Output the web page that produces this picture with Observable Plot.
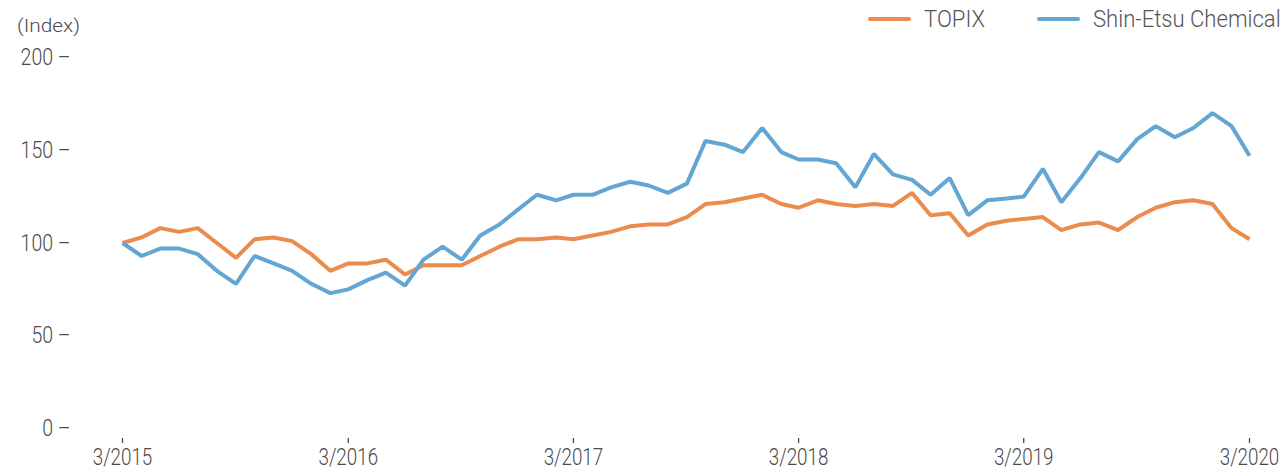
<!DOCTYPE html>
<html>
<head>
<meta charset="utf-8">
<script src="https://cdn.jsdelivr.net/npm/d3@7"></script>
<script src="https://cdn.jsdelivr.net/npm/@observablehq/plot@0.6"></script>
<style>
  html, body { margin: 0; padding: 0; background: #fff; }
  #wrap { position: relative; width: 1287px; height: 474px; overflow: hidden; }
  #wrap svg { display: block; }
  #overlay { position: absolute; left: 0; top: 0; }
</style>
</head>
<body>
<div id="wrap"></div>
<script>
// ---- Data (monthly, 3/2015 = 100) ----
const startYear = 2015, startMonthIndex = 2; // March 2015
const seriesNames = ["TOPIX", "Shin-Etsu Chemical"];
const seriesColors = ["#ec8b4e", "#63a5d3"];
const topix = [
  100, 103, 108, 106, 108, 100, 92, 102, 103, 101,
  94, 85, 89, 89, 91, 83, 88, 88, 88, 93,
  98, 102, 102, 103, 102, 104, 106, 109, 110, 110,
  114, 121, 122, 124, 126, 121, 119, 123, 121, 120,
  121, 120, 127, 115, 116, 104, 110, 112, 113, 114,
  107, 110, 111, 107, 114, 119, 122, 123, 121, 108, 102
];
const shinEtsu = [
  100, 93, 97, 97, 94, 85, 78, 93, 89, 85,
  78, 73, 75, 80, 84, 77, 91, 98, 91, 104,
  110, 118, 126, 123, 126, 126, 130, 133, 131, 127,
  132, 155, 153, 149, 162, 149, 145, 145, 143, 130,
  148, 137, 134, 126, 135, 115, 123, 124, 125, 140,
  122, 135, 149, 144, 156, 163, 157, 162, 170, 163, 147
];
const yTicks = [0, 50, 100, 150, 200];
const xTickYears = [2015, 2016, 2017, 2018, 2019, 2020];
const yUnitLabel = "(Index)";

// ---- Build table ----
const monthDate = i => new Date(Date.UTC(startYear, startMonthIndex + i, 1));
const rows = [];
[topix, shinEtsu].forEach((arr, s) => {
  arr.forEach((v, i) => rows.push({ date: monthDate(i), value: v, series: seriesNames[s] }));
});
const xTicks = xTickYears.map(y => new Date(Date.UTC(y, startMonthIndex, 1)));

const FONT = "Roboto, 'Noto Sans', sans-serif";
const TEXT = "#4a4a4a";

const chart = Plot.plot({
  width: 1287,
  height: 474,
  marginLeft: 122,
  marginRight: 38,
  marginTop: 57,
  marginBottom: 46,
  style: { fontFamily: FONT, fontSize: "23.5px", fontWeight: 300, color: TEXT, background: "transparent", overflow: "visible" },
  x: { type: "utc", domain: [monthDate(0), monthDate(topix.length - 1)] },
  y: { domain: [0, 200] },
  color: { domain: seriesNames, range: seriesColors },
  marks: [
    Plot.axisY({
      ticks: yTicks, tickSize: 0, tickPadding: 52, label: null,
      tickFormat: d => d + " –", fill: TEXT
    }),
    Plot.axisX({
      ticks: xTicks, tickSize: 5, tickPadding: 5, dy: 10, label: null,
      tickFormat: d => `3/${d.getUTCFullYear()}`, stroke: TEXT, fill: TEXT, strokeWidth: 1.3
    }),
    Plot.lineY(rows, {
      x: "date", y: "value", z: "series", stroke: "series",
      strokeWidth: 4, strokeLinejoin: "miter", strokeLinecap: "butt"
    })
  ]
});

const wrap = document.getElementById("wrap");
wrap.appendChild(chart);

// ---- Overlay: unit label and legend (above the plot area) ----
const NS = "http://www.w3.org/2000/svg";
const ov = document.createElementNS(NS, "svg");
ov.setAttribute("id", "overlay");
ov.setAttribute("width", 1287);
ov.setAttribute("height", 45);
ov.style.fontFamily = FONT;
ov.style.fontWeight = 300;
wrap.appendChild(ov);

function addText(parent, str, x, y, size, fill, anchor) {
  const t = document.createElementNS(NS, "text");
  t.setAttribute("x", x); t.setAttribute("y", y);
  t.setAttribute("font-size", size);
  t.setAttribute("fill", fill);
  t.setAttribute("text-anchor", anchor || "start");
  t.textContent = str;
  parent.appendChild(t);
  return t;
}
const unitT = addText(ov, yUnitLabel, 17, 32, 19, TEXT);
const legendX = [870, 1039];
const legendTexts = [];
seriesNames.forEach((name, i) => {
  const l = document.createElementNS(NS, "line");
  l.setAttribute("x1", legendX[i]); l.setAttribute("x2", legendX[i] + 39);
  l.setAttribute("y1", 19); l.setAttribute("y2", 19);
  l.setAttribute("stroke", seriesColors[i]);
  l.setAttribute("stroke-width", 4);
  l.setAttribute("stroke-linecap", "round");
  ov.appendChild(l);
  legendTexts.push(addText(ov, name, legendX[i] + 54, 27, 23.5, "#555"));
});

// ---- Condense text horizontally (narrow typeface look), keeping its anchor fixed ----
function condense(t, k) {
  const b = t.getBBox();
  const anchor = getComputedStyle(t).textAnchor;
  const ax = anchor === "end" ? b.x + b.width : anchor === "middle" ? b.x + b.width / 2 : b.x;
  const T = t.getAttribute("transform") || "";
  t.setAttribute("transform", `${T} translate(${ax.toFixed(2)},0) scale(${k},1) translate(${(-ax).toFixed(2)},0)`);
}
chart.querySelectorAll('g[aria-label="y-axis tick label"] text').forEach(t => condense(t, 0.83));
chart.querySelectorAll('g[aria-label="x-axis tick label"] text').forEach(t => condense(t, 0.8));
legendTexts.forEach(t => condense(t, 0.94));
condense(unitT, 63 / unitT.getBBox().width);
</script>
</body>
</html>
